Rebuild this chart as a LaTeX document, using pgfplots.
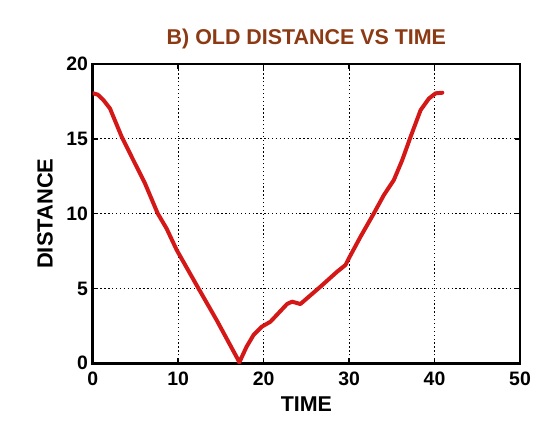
\documentclass[border=0pt]{standalone}
\usepackage{pgfplots}
\pgfplotsset{compat=1.18}
\usepackage{fontspec}
\setmainfont{Liberation Sans}
\definecolor{linered}{RGB}{212,24,24}
\definecolor{titlebrown}{RGB}{140,58,20}
\begin{document}
\begin{tikzpicture}
\begin{axis}[
    scale only axis,
    width=427.3bp, height=299.3bp,
    xmin=0, xmax=50, ymin=0, ymax=20,
    xtick={0,10,...,50}, ytick={0,5,...,20},
    grid=major,
    major grid style={black, line width=1bp, dash pattern=on 1.3bp off 2.6bp},
    axis line style={line width=2.6bp},
    tick style={black, line width=1.5bp},
    tick align=inside, major tick length=5bp,
    /pgf/number format/assume math mode=true,
    ticklabel style={font=\fontsize{19.5}{22}\selectfont\bfseries, inner sep=0pt},
    xticklabel style={anchor=north, yshift=-8bp},
    yticklabel style={anchor=east, xshift=-4.5bp},
    title={B) OLD DISTANCE VS TIME},
    title style={font=\fontsize{21.5}{24}\selectfont\bfseries, text=titlebrown,
        at={(axis description cs:0.5,1)}, anchor=center, yshift=19bp},
    xlabel={TIME},
    xlabel style={font=\fontsize{21.5}{24}\selectfont\bfseries,
        at={(axis description cs:0.5,0)}, anchor=center, yshift=-40.7bp},
    ylabel={DISTANCE},
    ylabel style={font=\fontsize{22}{24}\selectfont\bfseries,
        at={(axis description cs:0,0.5)}, anchor=center, yshift=47.7bp},
]
\addplot[color=linered, line width=4bp, line join=round, line cap=round] coordinates {
    (0,18.05) (0.6,17.95) (1.24,17.6) (2.02,17.03) (3.39,15.14)
    (4.75,13.58) (6.12,12.02) (7.6,10.02) (8.65,9.0) (9.83,7.57)
    (12.37,5.01) (14.5,2.89) (17.03,0.22) (17.15,0.05)
    (18.0,1.1) (18.83,1.9) (19.8,2.45) (20.8,2.78) (22.74,3.96)
    (23.33,4.12) (24.3,3.96) (26.65,5.12) (28.6,6.12) (29.58,6.57)
    (29.97,7.01) (31.34,8.46) (32.9,10.02) (34.07,11.24) (35.24,12.25)
    (36.22,13.58) (37.2,15.14) (38.37,16.92) (39.35,17.7) (40.13,18.04)
    (40.91,18.08)
};
\end{axis}
\pgfresetboundingbox
\path (-92.7bp,-62.7bp) rectangle (451.3bp,363.3bp);
\end{tikzpicture}
\end{document}
